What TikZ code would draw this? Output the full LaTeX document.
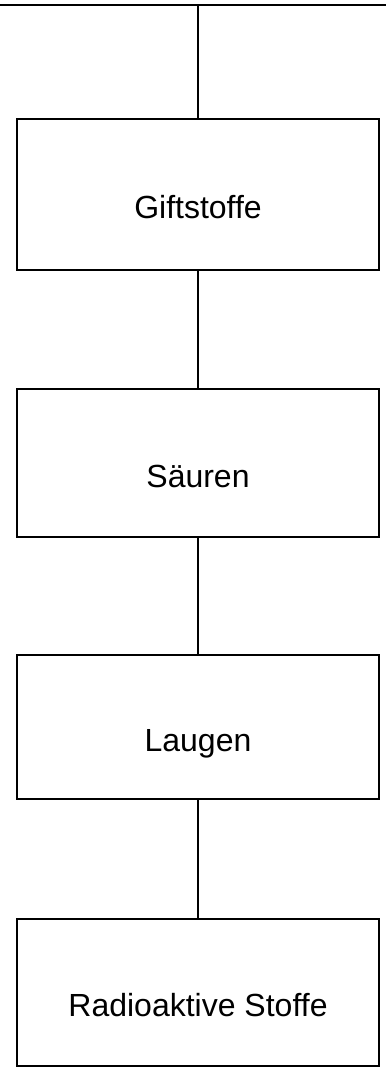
\documentclass[tikz,border=0pt]{standalone}
\usepackage{fontspec}
\setmainfont{Liberation Sans}
\begin{document}
\begin{tikzpicture}[x=1pt,y=1pt,
  connline/.style={draw=black, line width=2.2pt},
  itembox/.style={draw=black, line width=2.2pt, rectangle, minimum width=362pt,
    inner sep=0pt, text height=48pt, text depth=0pt,
    font=\fontsize{32}{36}\selectfont}]
\useasboundingbox (0,0) rectangle (386,-1068);
\coordinate (tl) at (0,-5);
\coordinate (tr) at (386,-5);
\coordinate (tc) at (198,-5);
\node[itembox, minimum height=151pt] (b1) at (198,-194.5) {Giftstoffe};
\node[itembox, minimum height=148pt] (b2) at (198,-463) {Säuren};
\node[itembox, minimum height=144pt] (b3) at (198,-727) {Laugen};
\node[itembox, minimum height=147pt] (b4) at (198,-992.5) {Radioaktive Stoffe};
\path[connline] (tl) -- (tr);
\path[connline] (tc) -- (b1.north);
\path[connline] (b1.south) -- (b2.north);
\path[connline] (b2.south) -- (b3.north);
\path[connline] (b3.south) -- (b4.north);
\end{tikzpicture}
\end{document}
